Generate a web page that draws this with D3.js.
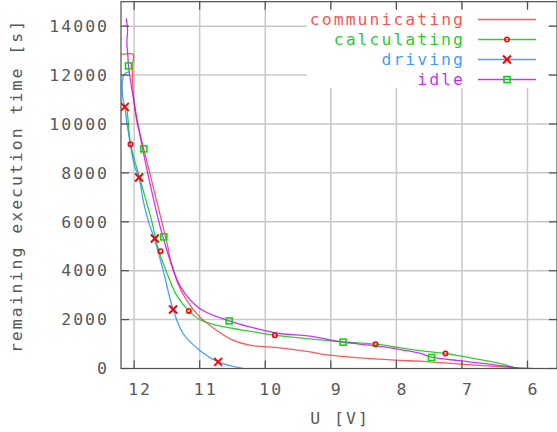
<!DOCTYPE html>
<html><head><meta charset="utf-8">
<script src="https://cdn.jsdelivr.net/npm/d3@7"></script>
<style>
html,body{margin:0;padding:0;background:#fff;}
text{font-family:"DejaVu Sans Mono",monospace;font-size:16.5px;letter-spacing:2px;}
</style></head>
<body><svg id="c" width="557" height="432"></svg>
<script>
// ---- data ----
const xTicks = [12, 11, 10, 9, 8, 7, 6];
const yTicks = [0, 2000, 4000, 6000, 8000, 10000, 12000, 14000];
const xLabel = "U [V]";
const yLabel = "remaining execution time [s]";
const seriesNames = ["communicating", "calculating", "driving", "idle"];
const seriesColors = ["#ff3030", "#00c000", "#1a88ff", "#c000ff"];

const communicating = [[12.2,12843],[12.012,12843],[12.02,12500],[12.025,11800],[11.963,10155],[11.925,9746],[11.709,7427],[11.481,4920],[11.456,4564],[11.334,3489],[11.2,2793],[11.0,2110],[10.743,1566],[10.495,1157],[10.236,952],[9.778,842],[9.32,679],[9.015,544],[8.024,339],[7.643,299],[7.007,176],[6.377,65],[5.92,0]];
const calculating = [[12.111,10646],[12.092,10155],[12.055,9174],[11.913,7771],[11.735,6066],[11.634,4908],[11.456,3612],[11.353,2998],[11.166,2356],[11.0,2004],[10.743,1771],[10.49,1636],[10.236,1526],[9.854,1362],[8.813,1088],[8.314,994],[7.643,728],[7.251,613],[7.007,503],[6.373,176],[6.168,0]];
const driving = [[12.073,12139],[12.15,12037],[12.177,11791],[12.18,11301],[12.168,10973],[12.142,10699],[12.116,10155],[12.09,9706],[11.99,8245],[11.924,7812],[11.863,6884],[11.787,6066],[11.684,5247],[11.558,4020],[11.405,2413],[11.253,1431],[11.0,748],[10.719,270],[10.338,0]];
const idle = [[12.12,14315],[12.10,13836],[12.11,13346],[12.096,12814],[12.085,12372],[12.04,11517],[11.87,8982],[11.70,6884],[11.56,5383],[11.29,3337],[11.0,2454],[10.551,1947],[10.236,1701],[9.778,1431],[9.32,1321],[8.813,1076],[8.403,953],[8.024,818],[7.643,626],[7.465,462],[7.007,311],[6.373,106],[6.12,0]];

const calculatingMarks = [[12.055,9174],[11.597,4798],[11.166,2356],[9.854,1362],[8.318,995],[7.251,614]];
const drivingMarks = [[12.142,10699],[11.924,7812],[11.684,5317],[11.405,2413],[10.719,270]];
const idleMarks = [[12.085,12372],[11.852,8982],[11.547,5383],[10.551,1947],[8.813,1076],[7.465,450]];

// ---- layout ----
const L = 121, R = 557, T = 1.7, B = 368.5;
const svg = d3.select("#c");
const x = d3.scaleLinear().domain([12.2, 5.55]).range([L, R]);
const y = d3.scaleLinear().domain([0, 15000]).range([B, T]);

// grid
const g = svg.append("g");
g.selectAll(".gx").data(xTicks).enter().append("line")
  .attr("x1", d => x(d)).attr("x2", d => x(d)).attr("y1", T).attr("y2", B)
  .attr("stroke", "#c8c8c8").attr("stroke-width", 1.5);
g.selectAll(".gy").data(yTicks.filter(d => d > 0)).enter().append("line")
  .attr("x1", L).attr("x2", R).attr("y1", d => y(d)).attr("y2", d => y(d))
  .attr("stroke", "#c8c8c8").attr("stroke-width", 1.5);

// clip
svg.append("clipPath").attr("id", "pc").append("rect")
  .attr("x", L).attr("y", T).attr("width", R - L).attr("height", B - T);

const line = d3.line().x(d => x(d[0])).y(d => y(d[1])).curve(d3.curveCatmullRom.alpha(0.5));
const plots = svg.append("g").attr("clip-path", "url(#pc)");
[communicating, calculating, driving, idle].forEach((s, i) => {
  plots.append("path").attr("d", line(s)).attr("fill", "none")
    .attr("stroke", seriesColors[i]).attr("stroke-width", 1.3).attr("stroke-opacity", 0.8);
});

// markers
function circleMark(sel, cx, cy) {
  sel.append("circle").attr("cx", cx).attr("cy", cy).attr("r", 2.2)
    .attr("fill", "none").attr("stroke", "#ff0000").attr("stroke-width", 1.6);
}
function crossMark(sel, cx, cy) {
  const s = 4;
  sel.append("path").attr("d", `M${cx-s},${cy-s}L${cx+s},${cy+s}M${cx-s},${cy+s}L${cx+s},${cy-s}`)
    .attr("stroke", "#ff0000").attr("stroke-width", 2).attr("fill", "none");
}
function squareMark(sel, cx, cy) {
  sel.append("rect").attr("x", cx - 3).attr("y", cy - 3).attr("width", 6).attr("height", 6)
    .attr("fill", "none").attr("stroke", "#00e000").attr("stroke-width", 1.6);
}
calculatingMarks.forEach(d => circleMark(plots, x(d[0]), y(d[1])));
drivingMarks.forEach(d => crossMark(plots, x(d[0]), y(d[1])));
idleMarks.forEach(d => squareMark(plots, x(d[0]), y(d[1])));

// legend (opaque)
const lg = svg.append("g");
lg.append("rect").attr("x", 307).attr("y", 9).attr("width", 241).attr("height", 79).attr("fill", "#fff");
const markFns = [null, circleMark, crossMark, squareMark];
seriesNames.forEach((n, i) => {
  const ly = 19.5 + i * 20;
  lg.append("text").attr("x", 465).attr("y", ly).attr("dy", "0.35em")
    .attr("text-anchor", "end").attr("fill", seriesColors[i]).attr("fill-opacity", 0.85).text(n);
  lg.append("line").attr("x1", 478).attr("x2", 536).attr("y1", ly).attr("y2", ly)
    .attr("stroke", seriesColors[i]).attr("stroke-width", 1.3).attr("stroke-opacity", 0.8);
  if (markFns[i]) markFns[i](lg, 507, ly);
});

// border
const axisCol = "#505050";
svg.append("rect").attr("x", L).attr("y", T).attr("width", R - L).attr("height", B - T)
  .attr("fill", "none").attr("stroke", axisCol).attr("stroke-width", 1.2);

// ticks (inward, mirrored)
const tl = 8;
xTicks.forEach(d => {
  svg.append("line").attr("x1", x(d)).attr("x2", x(d)).attr("y1", B).attr("y2", B - tl).attr("stroke", axisCol).attr("stroke-width", 1.2);
  svg.append("line").attr("x1", x(d)).attr("x2", x(d)).attr("y1", T).attr("y2", T + tl).attr("stroke", axisCol).attr("stroke-width", 1.2);
});
yTicks.forEach(d => {
  svg.append("line").attr("x1", L).attr("x2", L + tl).attr("y1", y(d)).attr("y2", y(d)).attr("stroke", axisCol).attr("stroke-width", 1.2);
  svg.append("line").attr("x1", R).attr("x2", R - tl).attr("y1", y(d)).attr("y2", y(d)).attr("stroke", axisCol).attr("stroke-width", 1.2);
});

// tick labels
const txtCol = "#585858";
svg.selectAll(".xl").data(xTicks).enter().append("text")
  .attr("x", d => x(d) + 6).attr("y", 389).attr("dy", "0.35em")
  .attr("text-anchor", "middle").attr("fill", txtCol).text(d => d);
svg.selectAll(".yl").data(yTicks).enter().append("text")
  .attr("x", 109).attr("y", d => y(d)).attr("dy", "0.35em")
  .attr("text-anchor", "end").attr("fill", txtCol).text(d => d);

// axis labels
svg.append("text").attr("x", 340).attr("y", 418).attr("dy", "0.35em")
  .attr("text-anchor", "middle").attr("fill", txtCol).text(xLabel);
svg.append("text").attr("transform", "translate(16,186) rotate(-90)").attr("dy", "0.35em")
  .attr("text-anchor", "middle").attr("fill", txtCol).text(yLabel);
</script></body></html>
